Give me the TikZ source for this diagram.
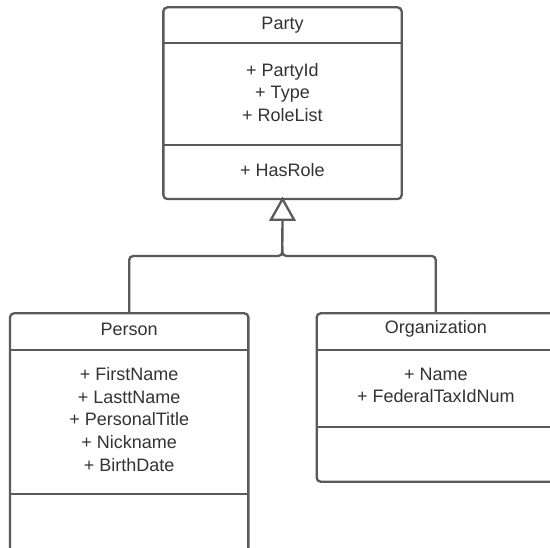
\documentclass[tikz,border=0pt]{standalone}
\usepackage{fontspec}
\setmainfont{Liberation Sans}
\usetikzlibrary{arrows.meta}
\definecolor{linegray}{HTML}{5A5A5A}
\definecolor{textgray}{HTML}{333333}
\tikzset{
  x=1pt, y=-1pt,
  classbox/.style={draw=linegray, line width=2.3pt, rounded corners=4pt, fill=white, minimum width=238.3pt, inner sep=0pt, outer sep=0pt},
  divider/.style={draw=linegray, line width=2.3pt},
  label/.style={text=textgray, font=\fontsize{18}{22.7}\selectfont, align=center, inner sep=0pt},
  conn/.style={draw=linegray, line width=2.3pt, rounded corners=4pt},
}
\begin{document}
\begin{tikzpicture}
\clip (0,0) rectangle (550,548);
\fill[white] (0,0) rectangle (550,548);
% Party
\node[classbox, minimum height=191.7pt] (party) at (282.5,103.2) {};
\draw[divider] (party.west |- 0,43.3) -- (party.east |- 0,43.3);
\draw[divider] (party.west |- 0,145) -- (party.east |- 0,145);
\node[label] (partyname) at (282.5,25) {Party};
\node[label] (partyattr) at (282.5,92.5) {+ PartyId\\+ Type\\+ RoleList};
\node[label] (partyops) at (282.5,170) {+ HasRole};
% Person
\node[classbox, minimum height=250pt] (person) at (129.2,438.3) {};
\draw[divider] (person.west |- 0,350) -- (person.east |- 0,350);
\draw[divider] (person.west |- 0,494.3) -- (person.east |- 0,494.3);
\node[label] (personname) at (129.2,329) {Person};
\node[label] (personattr) at (129.2,419.5) {+ FirstName\\+ LasttName\\+ PersonalTitle\\+ Nickname\\+ BirthDate};
% Organization
\node[classbox, minimum height=168.4pt] (org) at (435.8,397.5) {};
\draw[divider] (org.west |- 0,350) -- (org.east |- 0,350);
\draw[divider] (org.west |- 0,426.7) -- (org.east |- 0,426.7);
\node[label] (orgname) at (435.8,329) {Organization};
\node[label] (orgattr) at (435.8,385.3) {+ Name\\+ FederalTaxIdNum};
% Connectors
\coordinate (junction) at (282.3,256);
\draw[conn] (person.north) |- (junction) -- (party.south);
\draw[conn] (org.north) |- (junction) -- ++(0,-10);
\draw[draw=linegray, line width=2.3pt, fill=white, line join=miter] (party.south) -- ++(11.6,20.7) -- ++(-23.2,0) -- cycle;
\end{tikzpicture}
\end{document}
